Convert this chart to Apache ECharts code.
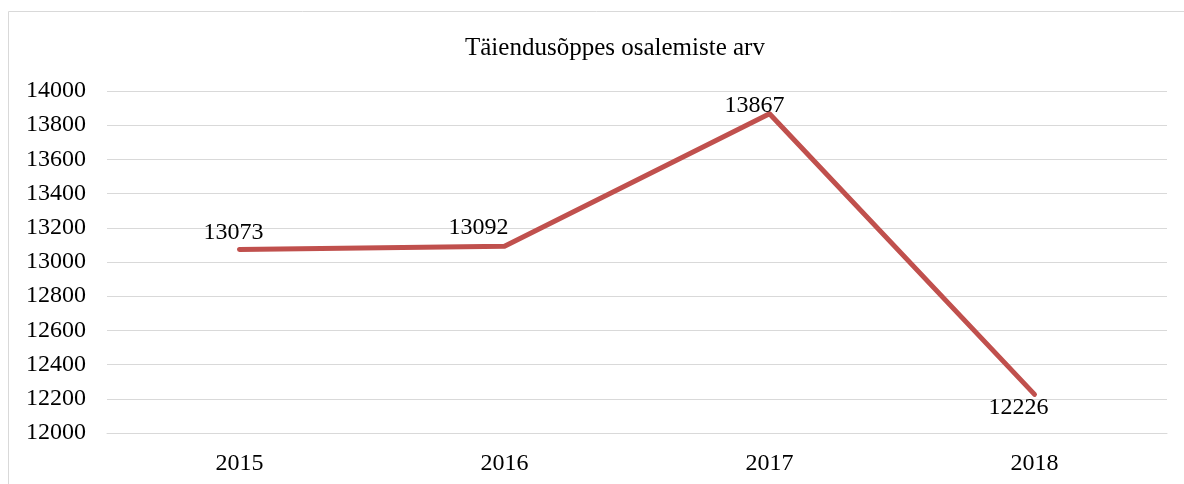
<!DOCTYPE html>
<html>
<head>
<meta charset="utf-8">
<script src="https://cdn.jsdelivr.net/npm/echarts@6/dist/echarts.min.js"></script>
<style>
html, body { margin: 0; padding: 0; background: #fff; }
#chart { width: 1184px; height: 484px; }
</style>
</head>
<body>
<div id="chart"></div>
<script>
var years = ['2015', '2016', '2017', '2018'];
var participations = [13073, 13092, 13867, 12226];

var font = '"Liberation Serif", "Times New Roman", serif';

// label placement per point, the way it sits in the original
var labelTweaks = [
    { position: 'top', offset: [-6, 0] },
    { position: 'top', offset: [-26, -2] },
    { position: 'top', offset: [-15, 9] },
    { position: 'bottom', offset: [-16, -4] }
];

var seriesData = participations.map(function (v, i) {
    return { value: v, label: labelTweaks[i] };
});

var chart = echarts.init(document.getElementById('chart'));
chart.setOption({
    animation: false,
    title: {
        text: 'Täiendusõppes osalemiste arv',
        left: 460,
        top: 31,
        textStyle: { fontFamily: font, fontSize: 25, fontWeight: 'normal', color: '#000' }
    },
    graphic: [{
        type: 'rect',
        shape: { x: 8.5, y: 11.5, width: 1300, height: 600 },
        style: { fill: 'none', stroke: '#d9d9d9', lineWidth: 1 },
        silent: true
    }],
    grid: { left: 107, right: 17, top: 91, bottom: 51 },
    xAxis: {
        type: 'category',
        data: years,
        axisLine: { show: true, lineStyle: { color: '#d9d9d9' } },
        axisTick: { show: false },
        axisLabel: { fontFamily: font, fontSize: 24, color: '#000', margin: 19 }
    },
    yAxis: {
        type: 'value',
        min: 12000,
        max: 14000,
        interval: 200,
        axisLine: { show: false },
        axisTick: { show: false },
        splitLine: { lineStyle: { color: '#d9d9d9', width: 1 } },
        axisLabel: {
            fontFamily: font, fontSize: 24, color: '#000', margin: 21,
            formatter: function (v) { return String(v); }
        }
    },
    series: [{
        type: 'line',
        data: seriesData,
        symbol: 'circle',
        symbolSize: 2,
        itemStyle: { color: '#c0504d' },
        lineStyle: { color: '#c0504d', width: 5, cap: 'round', join: 'round' },
        label: {
            show: true,
            fontFamily: font,
            fontSize: 24,
            color: '#000',
            distance: 4
        }
    }]
});
</script>
</body>
</html>
